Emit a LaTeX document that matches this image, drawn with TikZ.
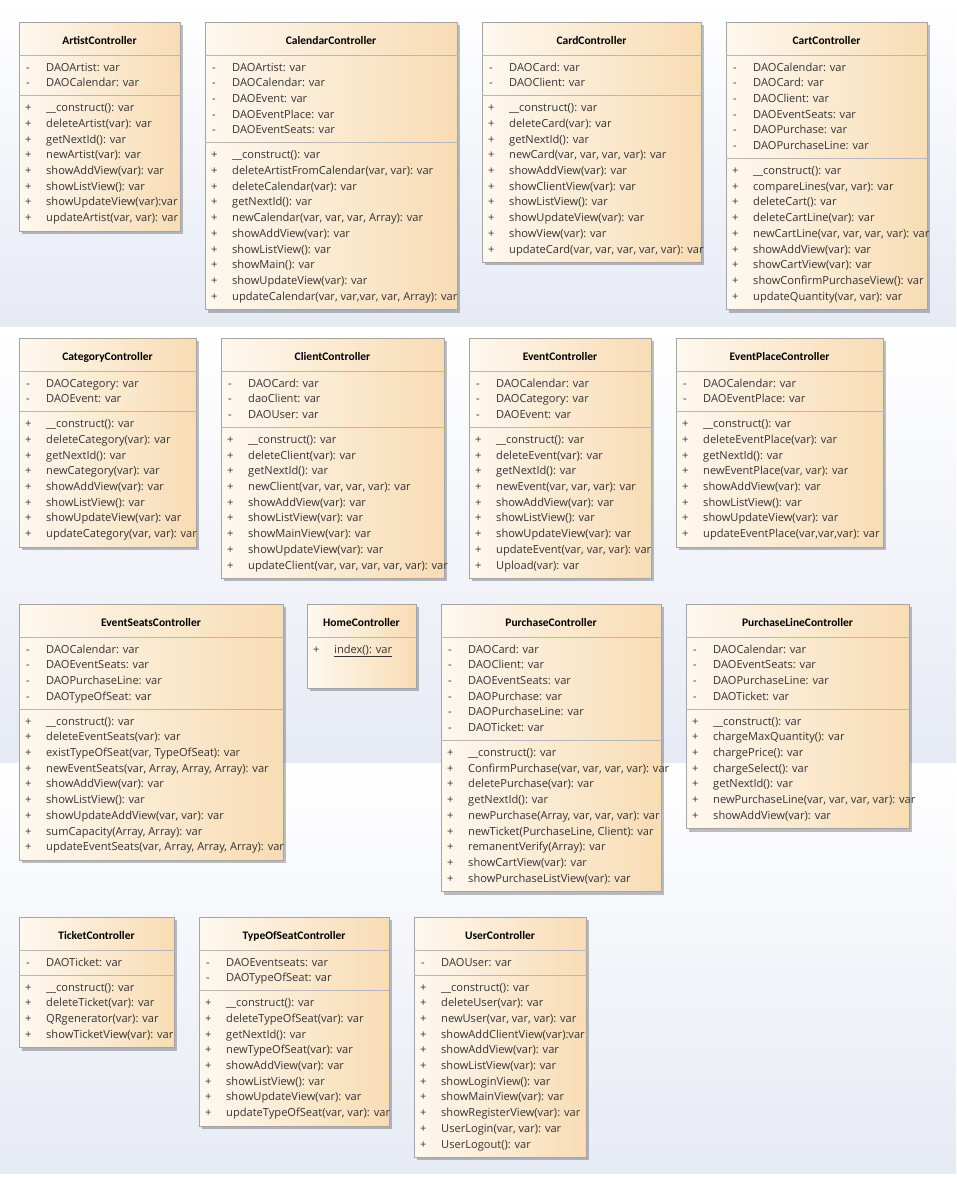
\documentclass[tikz,border=0pt]{standalone}
\usepackage{fontspec}
\newfontfamily\memberfont{Open Sans}
\newfontfamily\titlefont{Carlito}
\usetikzlibrary{positioning,shadows}
\definecolor{bandblue}{HTML}{E6EAF4}
\definecolor{boxleft}{HTML}{FEF8EF}
\definecolor{boxright}{HTML}{F8DCB4}
\definecolor{boxline}{HTML}{A5A5A5}
\definecolor{membertext}{HTML}{333333}

\newcommand{\umlclass}[7]{%
  \foreach \m [count=\i] in {#6} {\xdef\nattr{\i}}
  \foreach \m [count=\i] in {#7} {\xdef\nmeth{\i}}
  \pgfmathsetmacro\sepoff{42.3+\nattr*15.7}
  \pgfmathsetmacro\boxh{\sepoff+9.3+\nmeth*15.7}
  \node[classbox, minimum width=#4, minimum height=\boxh, anchor=north west] (#1) at (#2,#3) {};
  \node[classtitle] (#1-title) at (#2+#4/2,#3+22) {#5};
  \draw[divider] ([yshift=-33pt]#1.north west) -- ([yshift=-33pt]#1.north east);
  \draw[divider] ([yshift=-\sepoff pt]#1.north west) -- ([yshift=-\sepoff pt]#1.north east);
  \foreach \m [count=\i] in {#6} {
    \node[member] (#1-vis-a\i) at (#2+7,#3+49+\i*15.7-15.7) {-};
    \node[member] (#1-a\i) at (#2+27,#3+49+\i*15.7-15.7) {\m};
  }
  \foreach \m [count=\i] in {#7} {
    \node[member] (#1-vis-m\i) at (#2+6,#3+\sepoff+16+\i*15.7-15.7) {+};
    \node[member] (#1-m\i) at (#2+27,#3+\sepoff+16+\i*15.7-15.7) {\m};
  }
}

\begin{document}
\begin{tikzpicture}[x=1pt, y=-1pt,
  band/.style={top color=white, bottom color=bandblue},
  classbox/.style={draw=boxline, line width=0.8pt, left color=boxleft, right color=boxright, drop shadow={shadow xshift=3pt, shadow yshift=-3pt, fill=black, opacity=0.25}, inner sep=0},
  classtitle/.style={font=\titlefont\bfseries\fontsize{11.5}{13}\selectfont, anchor=base, inner sep=0},
  divider/.style={draw=boxline!80, line width=0.7pt},
  member/.style={font=\memberfont\fontsize{11.1}{12}\selectfont, text=membertext, anchor=base west, inner sep=0}]
\useasboundingbox (0,0) rectangle (956,1178);
\fill[white] (0,0) rectangle (956,1178);
\fill[band] (0,0) rectangle (956,327);
\fill[band] (0,327) rectangle (956,763);
\fill[band] (0,763) rectangle (956,1173);

\umlclass{artist}{19}{22}{161}{ArtistController}
  {{DAOArtist: var},{DAOCalendar: var}}
  {{\_\_construct(): var},{deleteArtist(var): var},{getNextId(): var},{newArtist(var): var},{showAddView(var): var},{showListView(): var},{showUpdateView(var):var},{updateArtist(var, var): var}}
\umlclass{calendar}{205}{22}{252}{CalendarController}
  {{DAOArtist: var},{DAOCalendar: var},{DAOEvent: var},{DAOEventPlace: var},{DAOEventSeats: var}}
  {{\_\_construct(): var},{deleteArtistFromCalendar(var, var): var},{deleteCalendar(var): var},{getNextId(): var},{newCalendar(var, var, var, Array): var},{showAddView(var): var},{showListView(): var},{showMain(): var},{showUpdateView(var): var},{updateCalendar(var, var,var, var, Array): var}}
\umlclass{card}{482}{22}{219}{CardController}
  {{DAOCard: var},{DAOClient: var}}
  {{\_\_construct(): var},{deleteCard(var): var},{getNextId(): var},{newCard(var, var, var, var): var},{showAddView(var): var},{showClientView(var): var},{showListView(): var},{showUpdateView(var): var},{showView(var): var},{updateCard(var, var, var, var, var): var}}
\umlclass{cart}{726}{22}{201}{CartController}
  {{DAOCalendar: var},{DAOCard: var},{DAOClient: var},{DAOEventSeats: var},{DAOPurchase: var},{DAOPurchaseLine: var}}
  {{\_\_construct(): var},{compareLines(var, var): var},{deleteCart(): var},{deleteCartLine(var): var},{newCartLine(var, var, var, var): var},{showAddView(var): var},{showCartView(var): var},{showConfirmPurchaseView(): var},{updateQuantity(var, var): var}}

\umlclass{category}{19}{338}{177}{CategoryController}
  {{DAOCategory: var},{DAOEvent: var}}
  {{\_\_construct(): var},{deleteCategory(var): var},{getNextId(): var},{newCategory(var): var},{showAddView(var): var},{showListView(): var},{showUpdateView(var): var},{updateCategory(var, var): var}}
\umlclass{client}{221}{338}{223}{ClientController}
  {{DAOCard: var},{daoClient: var},{DAOUser: var}}
  {{\_\_construct(): var},{deleteClient(var): var},{getNextId(): var},{newClient(var, var, var, var): var},{showAddView(var): var},{showListView(var): var},{showMainView(var): var},{showUpdateView(var): var},{updateClient(var, var, var, var, var): var}}
\umlclass{event}{469}{338}{182}{EventController}
  {{DAOCalendar: var},{DAOCategory: var},{DAOEvent: var}}
  {{\_\_construct(): var},{deleteEvent(var): var},{getNextId(): var},{newEvent(var, var, var): var},{showAddView(var): var},{showListView(): var},{showUpdateView(var): var},{updateEvent(var, var, var): var},{Upload(var): var}}
\umlclass{eventplace}{676}{338}{207}{EventPlaceController}
  {{DAOCalendar: var},{DAOEventPlace: var}}
  {{\_\_construct(): var},{deleteEventPlace(var): var},{getNextId(): var},{newEventPlace(var, var): var},{showAddView(var): var},{showListView(): var},{showUpdateView(var): var},{updateEventPlace(var,var,var): var}}

\umlclass{eventseats}{19}{604}{264}{EventSeatsController}
  {{DAOCalendar: var},{DAOEventSeats: var},{DAOPurchaseLine: var},{DAOTypeOfSeat: var}}
  {{\_\_construct(): var},{deleteEventSeats(var): var},{existTypeOfSeat(var, TypeOfSeat): var},{newEventSeats(var, Array, Array, Array): var},{showAddView(var): var},{showListView(): var},{showUpdateAddView(var, var): var},{sumCapacity(Array, Array): var},{updateEventSeats(var, Array, Array, Array): var}}
\node[classbox, minimum width=109, minimum height=84, anchor=north west] (home) at (307,604) {};
\node[classtitle] (home-title) at (361.5,626) {HomeController};
\draw[divider] ([yshift=-33pt]home.north west) -- ([yshift=-33pt]home.north east);
\node[member] (home-vis-m1) at (313,653) {+};
\node[member] (home-m1) at (334,653) {\underline{index(): var}};
\umlclass{purchase}{441}{604}{220}{PurchaseController}
  {{DAOCard: var},{DAOClient: var},{DAOEventSeats: var},{DAOPurchase: var},{DAOPurchaseLine: var},{DAOTicket: var}}
  {{\_\_construct(): var},{ConfirmPurchase(var, var, var, var): var},{deletePurchase(var): var},{getNextId(): var},{newPurchase(Array, var, var, var): var},{newTicket(PurchaseLine, Client): var},{remanentVerify(Array): var},{showCartView(var): var},{showPurchaseListView(var): var}}
\umlclass{purchaseline}{686}{604}{223}{PurchaseLineController}
  {{DAOCalendar: var},{DAOEventSeats: var},{DAOPurchaseLine: var},{DAOTicket: var}}
  {{\_\_construct(): var},{chargeMaxQuantity(): var},{chargePrice(): var},{chargeSelect(): var},{getNextId(): var},{newPurchaseLine(var, var, var, var): var},{showAddView(var): var}}

\umlclass{ticket}{19}{917}{155}{TicketController}
  {{DAOTicket: var}}
  {{\_\_construct(): var},{deleteTicket(var): var},{QRgenerator(var): var},{showTicketView(var): var}}
\umlclass{typeofseat}{199}{917}{190}{TypeOfSeatController}
  {{DAOEventseats: var},{DAOTypeOfSeat: var}}
  {{\_\_construct(): var},{deleteTypeOfSeat(var): var},{getNextId(): var},{newTypeOfSeat(var): var},{showAddView(var): var},{showListView(): var},{showUpdateView(var): var},{updateTypeOfSeat(var, var): var}}
\umlclass{user}{414}{917}{172}{UserController}
  {{DAOUser: var}}
  {{\_\_construct(): var},{deleteUser(var): var},{newUser(var, var, var): var},{showAddClientView(var):var},{showAddView(var): var},{showListView(var): var},{showLoginView(): var},{showMainView(var): var},{showRegisterView(var): var},{UserLogin(var, var): var},{UserLogout(): var}}
\end{tikzpicture}
\end{document}
